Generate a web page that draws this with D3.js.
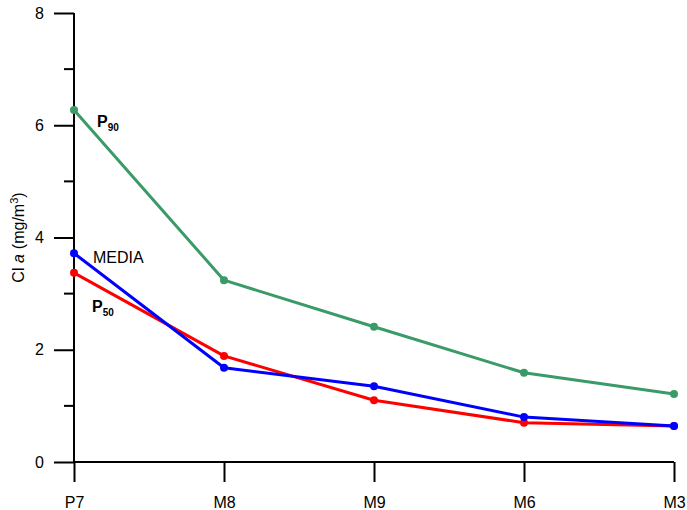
<!DOCTYPE html>
<html>
<head>
<meta charset="utf-8">
<script src="https://cdn.jsdelivr.net/npm/d3@7"></script>
<style>
  body { margin: 0; background: #fff; }
  text { font-family: "Liberation Sans", Arial, sans-serif; fill: #000; }
</style>
</head>
<body>
<div id="chart"></div>
<script>
// stations along the transect
const stations = ["P7", "M8", "M9", "M6", "M3"];

// Cl a values (mg/m3)
const p90   = [6.27, 3.24, 2.41, 1.59, 1.21];
const media = [3.72, 1.68, 1.35, 0.80, 0.64];
const p50   = [3.37, 1.89, 1.10, 0.70, 0.64];

const yTicks = [0, 2, 4, 6, 8];
const yMinor = [1, 3, 5, 7];

const W = 687, H = 510;
const margin = {top: 13, right: 13, bottom: 48, left: 74};

const svg = d3.select("#chart").append("svg")
    .attr("width", W)
    .attr("height", H);

const g = svg.append("g")
    .attr("transform", "translate(" + margin.left + "," + margin.top + ")");

const width = W - margin.left - margin.right;
const height = H - margin.top - margin.bottom;

const x = d3.scalePoint().domain(stations).range([0, width]);
const y = d3.scaleLinear().domain([0, 8]).range([height, 0]);

// y axis
const yAxis = g.append("g")
    .call(d3.axisLeft(y).tickValues(yTicks).tickSize(20).tickPadding(10).tickFormat(d3.format("d")));
yAxis.select(".domain").attr("stroke-width", 2).attr("d", "M0," + height + "V0");
yAxis.selectAll(".tick line").attr("stroke-width", 2);
yAxis.selectAll(".tick text").style("font-size", "16px");

g.append("g")
    .selectAll("line")
    .data(yMinor)
    .join("line")
    .attr("x1", -10).attr("x2", 0)
    .attr("y1", d => y(d)).attr("y2", d => y(d))
    .attr("stroke", "#000").attr("stroke-width", 2);

// x axis
const xAxis = g.append("g")
    .attr("transform", "translate(0," + height + ")")
    .call(d3.axisBottom(x).tickSize(20).tickPadding(15));
xAxis.select(".domain").attr("stroke-width", 2).attr("d", "M0,0H" + width);
xAxis.selectAll(".tick line").attr("stroke-width", 2);
xAxis.selectAll(".tick text").style("font-size", "16px");

// y label
const ylab = svg.append("text")
    .attr("transform", "translate(24," + (margin.top + y(4.0)) + ") rotate(-90)")
    .attr("text-anchor", "middle")
    .style("font-size", "16px");
ylab.append("tspan").text("Cl ");
ylab.append("tspan").style("font-style", "italic").text("a");
ylab.append("tspan").attr("dx", 5).text("(mg/m");
ylab.append("tspan").attr("dy", -6).style("font-size", "11px").text("3");
ylab.append("tspan").attr("dy", 6).text(")");

// series
const series = [
  {name: "p90", values: p90, color: "#3a9a68"},
  {name: "p50", values: p50, color: "#ff0000"},
  {name: "media", values: media, color: "#0000ff"}
];

const line = d3.line()
    .x((d, i) => x(stations[i]))
    .y(d => y(d));

series.forEach(s => {
  g.append("path")
      .datum(s.values)
      .attr("fill", "none")
      .attr("stroke", s.color)
      .attr("stroke-width", 3)
      .attr("stroke-linejoin", "round")
      .attr("d", line);
  g.selectAll(".dot-" + s.name)
      .data(s.values)
      .join("circle")
      .attr("class", "dot-" + s.name)
      .attr("cx", (d, i) => x(stations[i]))
      .attr("cy", d => y(d))
      .attr("r", 4)
      .attr("fill", s.color);
});

// series labels
function pLabel(px, py, sub) {
  const t = svg.append("text")
      .attr("x", px).attr("y", py)
      .style("font-size", "16px")
      .style("font-weight", "bold");
  t.append("tspan").text("P");
  t.append("tspan").attr("dy", 4).style("font-size", "10px").text(sub);
}
pLabel(97, 127, "90");
pLabel(92, 312, "50");

svg.append("text")
    .attr("x", 93).attr("y", 263)
    .style("font-size", "16px")
    .text("MEDIA");
</script>
</body>
</html>
